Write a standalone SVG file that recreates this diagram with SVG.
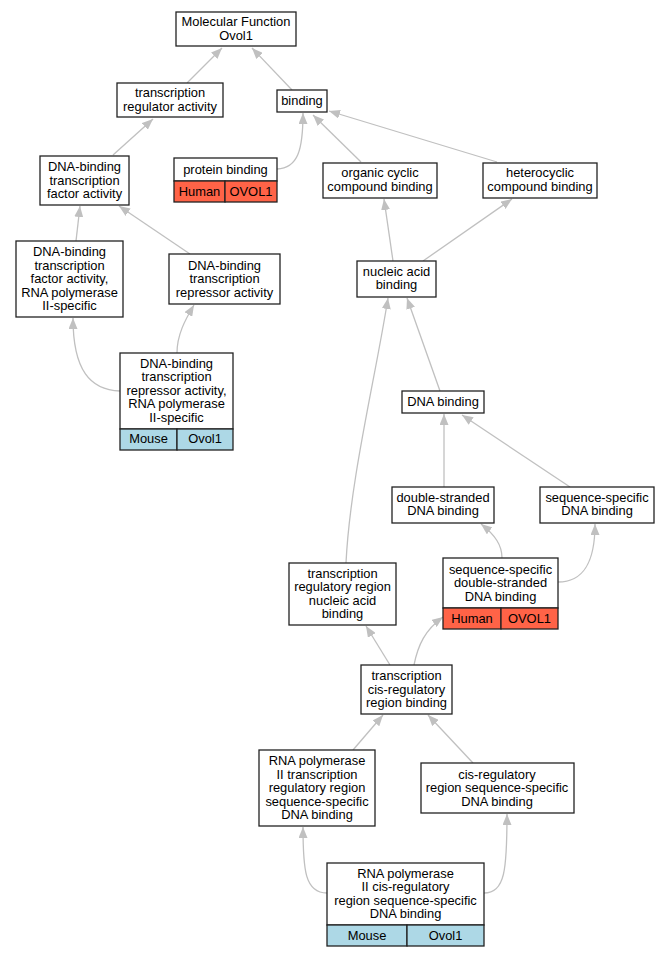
<svg xmlns="http://www.w3.org/2000/svg" width="671" height="957" viewBox="0 0 671 957">
<defs>
<style>
.n rect{stroke:#222;stroke-width:1.3}
.w{fill:#fff}
.h{fill:#ff6347}
.m{fill:#add8e6}
text{font-family:"Liberation Sans",Arial,sans-serif;font-size:12.9px;fill:#000;text-anchor:middle}
.e path{fill:none;stroke:#c0c0c0;stroke-width:1.3;marker-end:url(#a)}
</style>
<marker id="a" viewBox="0 0 11 9" refX="11" refY="4.5" markerWidth="11" markerHeight="9" markerUnits="userSpaceOnUse" orient="auto">
<path d="M0,0 L11,4.5 L0,9 z" fill="#c0c0c0"/>
</marker>
</defs>
<rect width="671" height="957" fill="#fff"/>
<g class="e" id="edges">
<path d="M187,83 L222,48"/>
<path d="M292,90 L252,48"/>
<path d="M113,155 L153,119"/>
<path d="M277,169 C298,168 303,150 303,113"/>
<path d="M361,162 L313,115"/>
<path d="M497,162 L329,111"/>
<path d="M76,241 L80,206"/>
<path d="M190,254 L119,206"/>
<path d="M120,391 C90,390 73,370 73,318"/>
<path d="M177,353 C177,335 185,320 194,305"/>
<path d="M393,261 L384,199"/>
<path d="M423,261 L512,199"/>
<path d="M440,391 L407,298"/>
<path d="M346,563 C350,480 375,380 388,298"/>
<path d="M444,487 L444,414"/>
<path d="M570,487 L462,415"/>
<path d="M502,558 C502,545 495,535 481,524"/>
<path d="M558,582 C585,582 595,560 595,524"/>
<path d="M390,665 L366,626"/>
<path d="M414,665 C418,645 425,630 443,617"/>
<path d="M353,750 L383,715"/>
<path d="M473,763 L428,715"/>
<path d="M327,893 C305,893 303,870 303,827"/>
<path d="M484,893 C505,893 507,870 507,814"/>
</g>
<g class="n" id="mf"><rect class="w" x="176" y="12" width="120" height="34"/><text x="236" y="26">Molecular Function</text><text x="236" y="39.5">Ovol1</text></g>
<g class="n" id="tra"><rect class="w" x="117" y="83" width="106" height="34"/><text x="170" y="97">transcription</text><text x="170" y="110.5">regulator activity</text></g>
<g class="n" id="binding"><rect class="w" x="277" y="90" width="50" height="22"/><text x="302" y="105">binding</text></g>
<g class="n" id="pb"><rect class="w" x="174" y="158" width="103" height="23"/><rect class="h" x="174" y="181" width="51" height="21"/><rect class="h" x="225" y="181" width="52" height="21"/><text x="225.5" y="173.5">protein binding</text><text x="199.5" y="195.5">Human</text><text x="251" y="195.5">OVOL1</text></g>
<g class="n" id="occb"><rect class="w" x="323" y="163" width="114" height="35"/><text x="380" y="177">organic cyclic</text><text x="380" y="190.5">compound binding</text></g>
<g class="n" id="hcb"><rect class="w" x="483" y="163" width="114" height="35"/><text x="540" y="177">heterocyclic</text><text x="540" y="190.5">compound binding</text></g>
<g class="n" id="dtfa"><rect class="w" x="40" y="156" width="89" height="49"/><text x="84.5" y="171">DNA-binding</text><text x="84.5" y="184.5">transcription</text><text x="84.5" y="198">factor activity</text></g>
<g class="n" id="dtfa2"><rect class="w" x="16" y="241" width="107" height="76"/><text x="69.5" y="256">DNA-binding</text><text x="69.5" y="269.5">transcription</text><text x="69.5" y="283">factor activity,</text><text x="69.5" y="296.5">RNA polymerase</text><text x="69.5" y="310">II-specific</text></g>
<g class="n" id="dtra"><rect class="w" x="169" y="254" width="111" height="50"/><text x="224.5" y="269.5">DNA-binding</text><text x="224.5" y="283">transcription</text><text x="224.5" y="296.5">repressor activity</text></g>
<g class="n" id="dtra2"><rect class="w" x="120" y="353" width="113" height="76"/><rect class="m" x="120" y="429" width="57" height="21"/><rect class="m" x="177" y="429" width="56" height="21"/><text x="176.5" y="367.5">DNA-binding</text><text x="176.5" y="381">transcription</text><text x="176.5" y="394.5">repressor activity,</text><text x="176.5" y="408">RNA polymerase</text><text x="176.5" y="421.5">II-specific</text><text x="148.5" y="443">Mouse</text><text x="205" y="443">Ovol1</text></g>
<g class="n" id="nab"><rect class="w" x="357" y="261" width="79" height="36"/><text x="396.5" y="275.5">nucleic acid</text><text x="396.5" y="289">binding</text></g>
<g class="n" id="db"><rect class="w" x="402" y="391" width="82" height="22"/><text x="443" y="406">DNA binding</text></g>
<g class="n" id="dsdb"><rect class="w" x="392" y="487" width="102" height="36"/><text x="443" y="501.5">double-stranded</text><text x="443" y="515">DNA binding</text></g>
<g class="n" id="ssdb"><rect class="w" x="540" y="487" width="114" height="36"/><text x="597" y="501.5">sequence-specific</text><text x="597" y="515">DNA binding</text></g>
<g class="n" id="trrnab"><rect class="w" x="289" y="563" width="107" height="62"/><text x="342.5" y="577.5">transcription</text><text x="342.5" y="591">regulatory region</text><text x="342.5" y="604.5">nucleic acid</text><text x="342.5" y="618">binding</text></g>
<g class="n" id="ssdsdb"><rect class="w" x="443" y="558" width="115" height="50"/><rect class="h" x="443" y="608" width="58" height="21"/><rect class="h" x="501" y="608" width="57" height="21"/><text x="500.5" y="573.5">sequence-specific</text><text x="500.5" y="587">double-stranded</text><text x="500.5" y="600.5">DNA binding</text><text x="472" y="622.5">Human</text><text x="529.5" y="622.5">OVOL1</text></g>
<g class="n" id="tcrb"><rect class="w" x="361" y="665" width="91" height="49"/><text x="406.5" y="680">transcription</text><text x="406.5" y="693.5">cis-regulatory</text><text x="406.5" y="707">region binding</text></g>
<g class="n" id="rp2tr"><rect class="w" x="259" y="750" width="116" height="76"/><text x="317" y="765">RNA polymerase</text><text x="317" y="778.5">II transcription</text><text x="317" y="792">regulatory region</text><text x="317" y="805.5">sequence-specific</text><text x="317" y="819">DNA binding</text></g>
<g class="n" id="crssdb"><rect class="w" x="421" y="763" width="153" height="50"/><text x="497" y="778.5">cis-regulatory</text><text x="497" y="792">region sequence-specific</text><text x="497" y="805.5">DNA binding</text></g>
<g class="n" id="rp2cr"><rect class="w" x="327" y="863" width="157" height="62"/><rect class="m" x="327" y="925" width="80" height="21"/><rect class="m" x="407" y="925" width="77" height="21"/><text x="405.5" y="877.5">RNA polymerase</text><text x="405.5" y="891">II cis-regulatory</text><text x="405.5" y="904.5">region sequence-specific</text><text x="405.5" y="918">DNA binding</text><text x="367" y="939.5">Mouse</text><text x="445.5" y="939.5">Ovol1</text></g>
</svg>
